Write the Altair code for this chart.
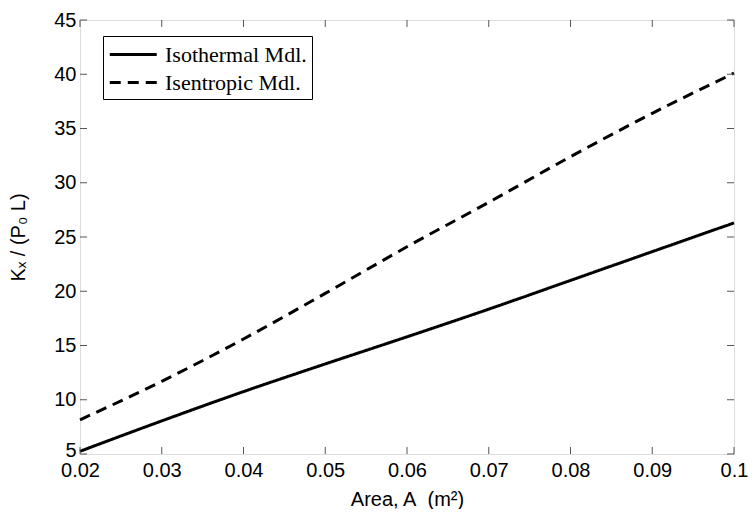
import altair as alt
import pandas as pd

# ---- data ----
area = [0.02, 0.03, 0.04, 0.05, 0.06, 0.07, 0.08, 0.09, 0.10]
isothermal = [5.25, 8.05, 10.75, 13.3, 15.8, 18.35, 21.0, 23.65, 26.3]
isentropic = [8.15, 11.7, 15.6, 19.8, 24.1, 28.2, 32.4, 36.4, 40.1]
series_names = ["Isothermal Mdl.", "Isentropic Mdl."]

x_ticks = [0.02, 0.03, 0.04, 0.05, 0.06, 0.07, 0.08, 0.09, 0.10]
y_ticks = [5, 10, 15, 20, 25, 30, 35, 40, 45]

x_dom = [0.02, 0.10]
y_dom = [5, 45]

rows = []
for a, v in zip(area, isothermal):
    rows.append({"A": a, "K": v, "model": series_names[0]})
for a, v in zip(area, isentropic):
    rows.append({"A": a, "K": v, "model": series_names[1]})
df = pd.DataFrame(rows)

W, H = 654, 434
tick_dx = (x_dom[1] - x_dom[0]) * 7 / W
tick_dy = (y_dom[1] - y_dom[0]) * 7 / H

xs = alt.Scale(domain=x_dom, nice=False, zero=False)
ys = alt.Scale(domain=y_dom, nice=False, zero=False)

AX = dict(grid=False, ticks=False, domain=False, labelFlush=False,
          labelOverlap=False, labelFont="Liberation Sans", labelFontSize=20,
          labelColor="black", titleFont="Liberation Sans", titleFontSize=20,
          titleColor="black", titleFontWeight="normal")

x_axis = alt.Axis(values=x_ticks, format=".2~f", title="Area, A\u00a0 (m²)",
                  labelPadding=6, titlePadding=9, **AX)
y_axis = alt.Axis(values=y_ticks, title="Kₓ / (P₀ L)",
                  labelPadding=4, titlePadding=25,
                  labelOffset={"condition": {"test": "datum.value == 5", "value": -4},
                               "value": 0},
                  **AX)

sym = 552  # sqrt = 23.5 ; path spans 2*sqrt = 47 px
lines = alt.Chart(df).mark_line(strokeWidth=3, color="black",
                                interpolate="monotone").encode(
    x=alt.X("A:Q", scale=xs, axis=x_axis),
    y=alt.Y("K:Q", scale=ys, axis=y_axis),
    strokeDash=alt.StrokeDash(
        "model:N",
        scale=alt.Scale(domain=series_names, range=[[1, 0], [11, 7]]),
        sort=series_names,
        legend=alt.Legend(title=None, orient="none", legendX=23, legendY=16,
                          symbolType="M-1,0H3", symbolSize=sym,
                          symbolStrokeWidth=3, symbolStrokeColor="black",
                          labelFont="Liberation Serif", labelFontSize=22,
                          labelColor="black", labelOffset=30,
                          strokeColor="black", fillColor="white",
                          padding=5, rowPadding=3),
    ),
)

# inward tick marks on all four sides
xt = pd.DataFrame({"t": x_ticks})
yt = pd.DataFrame({"t": y_ticks})
xt["b0"], xt["b1"] = y_dom[0], y_dom[0] + tick_dy
xt["u0"], xt["u1"] = y_dom[1], y_dom[1] - tick_dy
yt["l0"], yt["l1"] = x_dom[0], x_dom[0] + tick_dx
yt["r0"], yt["r1"] = x_dom[1], x_dom[1] - tick_dx

tc = "#555555"
bottom = alt.Chart(xt).mark_rule(color=tc, strokeWidth=1).encode(
    x=alt.X("t:Q", scale=xs, axis=x_axis), y=alt.Y("b0:Q", scale=ys, axis=y_axis), y2="b1:Q")
top = alt.Chart(xt).mark_rule(color=tc, strokeWidth=1).encode(
    x=alt.X("t:Q", scale=xs, axis=x_axis), y=alt.Y("u0:Q", scale=ys, axis=y_axis), y2="u1:Q")
left = alt.Chart(yt).mark_rule(color=tc, strokeWidth=1).encode(
    y=alt.Y("t:Q", scale=ys, axis=y_axis), x=alt.X("l0:Q", scale=xs, axis=x_axis), x2="l1:Q")
right = alt.Chart(yt).mark_rule(color=tc, strokeWidth=1).encode(
    y=alt.Y("t:Q", scale=ys, axis=y_axis), x=alt.X("r0:Q", scale=xs, axis=x_axis), x2="r1:Q")

chart = alt.layer(lines, bottom, top, left, right).properties(
    width=W, height=H,
    autosize=alt.AutoSizeParams(type="none"),
    padding={"left": 72, "top": 12, "right": 14, "bottom": 55},
).configure_view(stroke="#444444", strokeWidth=1).configure(background="white")

chart.save("out.html", embed_options={"renderer": "svg", "actions": False})
